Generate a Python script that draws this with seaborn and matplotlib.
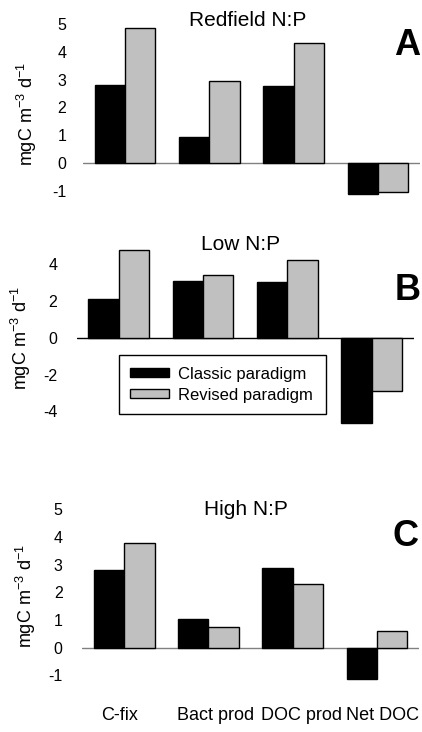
import numpy as np
import pandas as pd
import matplotlib
matplotlib.use("Agg")
import matplotlib.pyplot as plt
import seaborn as sns

# %% data
categories = ["C-fix", "Bact prod", "DOC prod", "Net DOC"]
paradigms = ["Classic paradigm", "Revised paradigm"]

redfield_classic = [2.80, 0.93, 2.76, -1.13]
redfield_revised = [4.85, 2.95, 4.32, -1.04]
low_classic = [2.10, 3.08, 3.03, -4.62]
low_revised = [4.75, 3.39, 4.24, -2.88]
high_classic = [2.82, 1.04, 2.87, -1.14]
high_revised = [3.78, 0.74, 2.31, 0.59]

titles = ["Redfield N:P", "Low N:P", "High N:P"]
letters = ["A", "B", "C"]


def long_df(classic, revised):
    return pd.DataFrame({
        "category": categories * 2,
        "paradigm": [paradigms[0]] * 4 + [paradigms[1]] * 4,
        "value": classic + revised,
    })


panels = [
    long_df(redfield_classic, redfield_revised),
    long_df(low_classic, low_revised),
    long_df(high_classic, high_revised),
]

# %% figure
sns.set_style("white")
plt.rcParams["font.family"] = ["Liberation Sans", "DejaVu Sans"]
plt.rcParams["mathtext.fontset"] = "custom"
plt.rcParams["mathtext.rm"] = "Liberation Sans"
plt.rcParams["mathtext.it"] = "Liberation Sans"
plt.rcParams["axes.unicode_minus"] = False
plt.rcParams["text.color"] = "black"
plt.rcParams["axes.labelcolor"] = "black"
plt.rcParams["xtick.color"] = "black"
plt.rcParams["ytick.color"] = "black"

W, H = 422, 732
fig = plt.figure(figsize=(W / 100, H / 100), dpi=100)


def px_axes(x0, x1, y0, y1):
    return fig.add_axes([x0 / W, 1 - y1 / H, (x1 - x0) / W, (y1 - y0) / H])


axes = [
    px_axes(83, 420, 10.1, 218.6),
    px_axes(76.7, 413.7, 236.5, 438.9),
    px_axes(82.1, 419.1, 495.3, 697.6),
]
ylims = [(-2, 5.5), (-5.5, 5.5), (-1.8, 5.5)]
yticks = [range(-1, 6), range(-4, 5, 2), range(-1, 6)]
zero_colors = ["#808080", "black", "#808080"]
ypads = [12, 14, 14]
title_y = [5.14, 5.04, 5.0]
letter_pos = [(3.35, 4.24), (3.43, 2.54), (3.34, 4.03)]
# category labels in the bottom panel sit slightly off the bar groups
xlabel_pos = [-0.05, 1.09, 2.11, 3.07]
palette = {paradigms[0]: "black", paradigms[1]: "#c0c0c0"}

for i, (ax, df) in enumerate(zip(axes, panels)):
    sns.barplot(data=df, x="category", y="value", hue="paradigm",
                palette=palette, width=0.72, saturation=1, errorbar=None,
                edgecolor="black", linewidth=1, ax=ax, legend=(i == 1))
    ax.axhline(0, color=zero_colors[i], lw=1, zorder=0.5)
    ax.set_xlim(-0.5, 3.5)
    ax.set_ylim(*ylims[i])
    ax.set_yticks(list(yticks[i]))
    for s in ax.spines.values():
        s.set_visible(False)
    ax.tick_params(axis="y", length=0, pad=ypads[i], labelsize=11.5)
    ax.set_xlabel("")
    ax.set_ylabel(r"mgC m$^{-3}$ d$^{-1}$", fontsize=13)
    ax.yaxis.set_label_coords(-0.13, 0.5)
    if i < 2:
        ax.set_xticks([])
    else:
        ax.set_xticks(xlabel_pos, categories)
        ax.tick_params(axis="x", length=0, pad=7, labelsize=13)
    ax.text(1.45, title_y[i], titles[i], ha="center", va="center", fontsize=15)
    ax.text(*letter_pos[i], letters[i], ha="center", va="center",
            fontsize=26, fontweight="bold")
    ax.set_facecolor("white")

# legend in panel B
leg = axes[1].legend(loc="upper left", bbox_to_anchor=(0.125, 0.1, 0.614, 0.3145),
                     mode="expand", borderaxespad=0, fontsize=12, frameon=True,
                     fancybox=False, framealpha=1, edgecolor="black",
                     handlelength=2.3, handleheight=0.45, handletextpad=0.55,
                     labelspacing=0.35, borderpad=0.7, title=None)
leg.get_frame().set_linewidth(1)
for t in leg.get_texts():
    t.set_color("black")

fig.savefig("out.png", dpi=100, facecolor="white")
